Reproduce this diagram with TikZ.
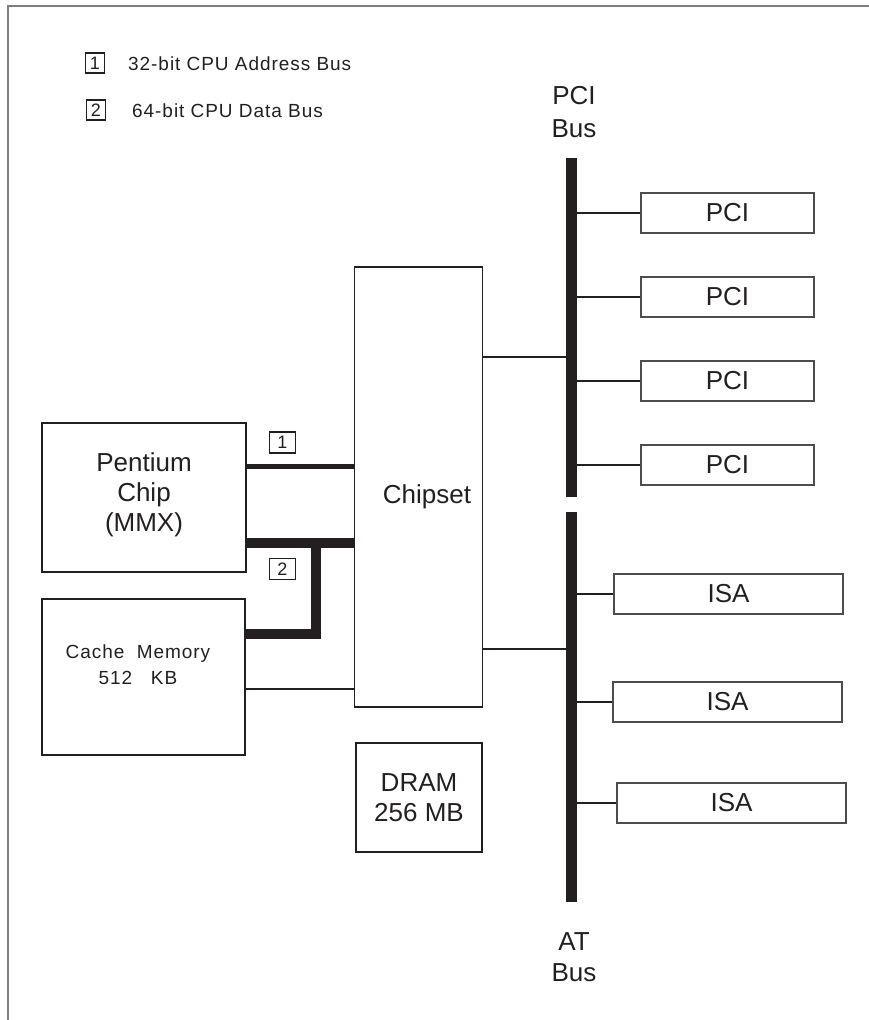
\documentclass[tikz,border=0pt]{standalone}
\usepackage{fontspec}
\setmainfont{Liberation Sans}
\usetikzlibrary{positioning}
\definecolor{ink}{HTML}{231F20}
\definecolor{rule}{HTML}{7F7F7F}

\begin{document}
\begin{tikzpicture}[x=1pt, y=-1pt,
  every node/.style={inner sep=0pt, text=ink, align=center},
  big/.style={font=\fontsize{26}{30}\selectfont},
  small/.style={font=\fontsize{19}{26}\selectfont\addfontfeatures{LetterSpace=5}},
  box/.style={draw=ink, line width=1.5pt},
  card/.style={draw=ink!80, line width=1.3pt, minimum height=40pt, big},
  tag/.style={draw=ink, line width=1.1pt, minimum width=19pt, minimum height=20pt, font=\fontsize{18}{20}\selectfont},
  busbar/.style={fill=ink, minimum width=11pt},
  link/.style={ink, line width=2.4pt},
  addrbus/.style={ink, line width=5pt},
  databus/.style={ink, line width=9.5pt}]
\useasboundingbox (0,0) rectangle (869,1020);
\draw[rule, line width=2pt] (8,1020) -- (8,6) -- (869,6);

% legend
\node[tag] (key1) at (95,63) {1};
\node[tag] (key2) at (96,110) {2};
\node[small, anchor=west] (key1txt) at (128,64) {32-bit CPU Address Bus};
\node[small, anchor=west] (key2txt) at (132,111) {64-bit CPU Data Bus};

% boxes
\node[box, minimum width=204pt, minimum height=149pt] (pentium) at (144,497.5) {};
\node[big] (pentiumtxt) at (144,495) {Pentium\\Chip\\(MMX)};
\node[box, minimum width=203pt, minimum height=156pt] (cache) at (143.5,677) {};
\node[small] (cachetxt) at (138,665) {Cache~~Memory\\512~~~KB};
\node[box, minimum width=128pt, minimum height=440pt] (chipset) at (418.5,487) {};
\node[big] (chipsettxt) at (427,497) {Chipset};
\node[box, big, minimum width=126pt, minimum height=109pt] (dram) at (419,797.5) {DRAM\\256 MB};

% buses
\node[busbar, minimum height=339pt] (pcibus) at (571.5,327.5) {};
\node[busbar, minimum height=390pt] (atbus) at (571.5,707) {};
\node[big, font=\fontsize{26}{33}\selectfont] (pcilbl) at (574,112) {PCI\\Bus};
\node[big, font=\fontsize{26}{31}\selectfont] (atlbl) at (574,957) {AT\\Bus};

% cards
\foreach \i/\y in {1/213,2/297,3/381,4/465}{
  \node[card, minimum width=173pt] (pci\i) at (727.5,\y) {PCI};
  \draw[link] (pcibus.east |- pci\i) -- (pci\i.west);
}
\foreach \i/\x/\y in {1/728.5/594,2/727.5/702,3/731.5/803}{
  \node[card, minimum width=229pt] (isa\i) at (\x,\y) {ISA};
  \draw[link] (atbus.east |- isa\i) -- (isa\i.west);
}

% connections
\draw[link] (chipset.east |- 0,357) -- (pcibus.west |- 0,357);
\draw[link] (chipset.east |- 0,649) -- (atbus.west |- 0,649);
\draw[link] (cache.east |- 0,689) -- (chipset.west |- 0,689);
\draw[addrbus] (pentium.east |- 0,466) -- (chipset.west |- 0,466);
\draw[databus] (pentium.east |- 0,543) -- (chipset.west |- 0,543);
\draw[databus] (cache.east |- 0,634) -| (316,538.25);
\node[tag, minimum width=26pt, minimum height=21pt] (bus1) at (282.5,442.5) {1};
\node[tag, minimum width=26pt, minimum height=21pt] (bus2) at (282.5,569) {2};
\end{tikzpicture}
\end{document}
